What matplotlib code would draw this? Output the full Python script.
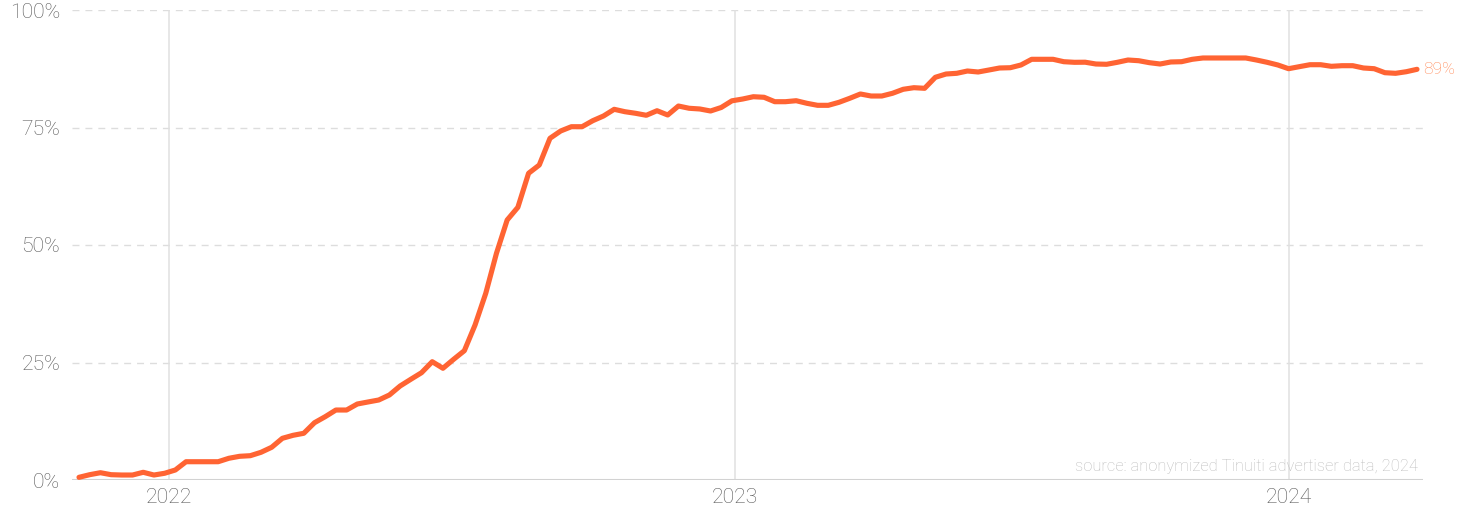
import numpy as np
import matplotlib
matplotlib.use('Agg')
import matplotlib.pyplot as plt

plt.rcParams['font.family'] = ['Roboto', 'DejaVu Sans']

# weekly share (%)
share = [
    0.57, 1.13, 1.55, 1.13, 1.06, 1.06, 1.64, 1.06, 1.43, 2.13,
    3.89, 3.89, 3.89, 3.89, 4.62, 5.04, 5.17, 5.89, 6.96, 8.87,
    9.51, 9.94, 12.19, 13.47, 14.89, 14.89, 16.17, 16.60, 17.02, 18.09,
    20.00, 21.43, 22.83, 25.17, 23.77, 25.68, 27.51, 32.98, 39.72, 48.23,
    55.32, 58.02, 65.26, 67.02, 72.70, 74.26, 75.17, 75.17, 76.45, 77.45,
    78.87, 78.36, 78.02, 77.60, 78.57, 77.66, 79.57, 79.09, 78.94, 78.51,
    79.26, 80.68, 81.06, 81.55, 81.43, 80.49, 80.49, 80.70, 80.15, 79.72,
    79.72, 80.36, 81.21, 82.13, 81.70, 81.70, 82.28, 83.13, 83.47, 83.34,
    85.68, 86.38, 86.53, 87.02, 86.81, 87.23, 87.66, 87.72, 88.30, 89.51,
    89.51, 89.51, 89.00, 88.87, 88.89, 88.51, 88.45, 88.87, 89.36, 89.21,
    88.79, 88.51, 88.94, 89.00, 89.51, 89.79, 89.79, 89.79, 89.79, 89.79,
    89.36, 88.87, 88.30, 87.51, 87.94, 88.36, 88.36, 88.02, 88.15, 88.15,
    87.66, 87.51, 86.66, 86.53, 86.87, 87.38,
]
year_labels = ['2022', '2023', '2024']
year_positions = [8.43, 61.27, 113.05]   # position in week index
y_ticks = [0, 25, 50, 75, 100]
y_tick_labels = ['0%', '25%', '50%', '75%', '100%']
end_label = '89%'
source_text = 'source: anonymized Tinuiti advertiser data, 2024'

W, H = 1465, 515
fig = plt.figure(figsize=(W / 100, H / 100), dpi=100)
ax = fig.add_axes([72 / W, 35 / H, (1423 - 72) / W, 470 / H])

x = np.arange(len(share))
ax.plot(x, share, color='#ff6433', lw=3.7, solid_joinstyle='round',
        solid_capstyle='round', zorder=4, clip_on=False)

ax.set_xlim(-0.654, len(share) - 1 + 0.56)
ax.set_ylim(0, 100)
for s in ax.spines.values():
    s.set_visible(False)

ax.set_yticks(y_ticks, y_tick_labels)
ax.set_xticks(year_positions, year_labels)
ax.tick_params(axis='both', length=0, labelsize=15.2, labelcolor='#585858')
ax.tick_params(axis='y', pad=8.6)
ax.tick_params(axis='x', pad=5.5)
for lbl in ax.get_xticklabels() + ax.get_yticklabels():
    lbl.set_fontweight('light')

# horizontal dashed grid
for yv in y_ticks[1:]:
    ax.axhline(yv, color='#dddddd', lw=1.0, ls=(0, (5, 4.3)), zorder=1)
# baseline
ax.axhline(0, color='#d2d2d2', lw=1.5, zorder=2)
# vertical year lines
for xv in year_positions:
    ax.axvline(xv, color='#e0e0e0', lw=1.1, zorder=1)

ax.annotate(end_label, xy=(x[-1], share[-1]), xytext=(4.5, 0),
            textcoords='offset points', va='center', ha='left',
            color='#ff8a58', fontsize=12.5, fontweight='light', annotation_clip=False)

ax.text(0.9963, 0.012, source_text, transform=ax.transAxes, ha='right', va='bottom',
        color='#bdbdbd', fontsize=11.9, fontweight='light')

fig.savefig('out.png', dpi=100)
